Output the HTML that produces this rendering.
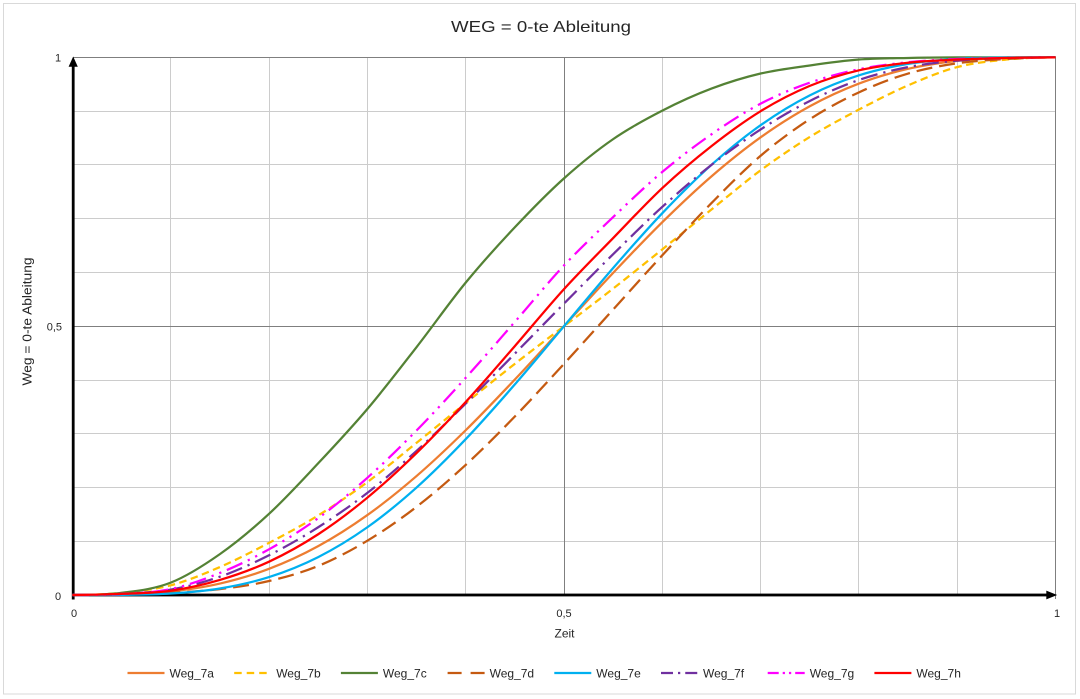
<!DOCTYPE html>
<html>
<head>
<meta charset="utf-8">
<style>
html,body{margin:0;padding:0;background:#fff}
svg{display:block}
</style>
</head>
<body>
<svg width="1080" height="699" viewBox="0 0 1080 699" xmlns="http://www.w3.org/2000/svg" font-family="'Liberation Sans', sans-serif">
<rect x="0" y="0" width="1080" height="699" fill="#ffffff"/>
<rect x="3.5" y="3.5" width="1072" height="690.5" fill="none" stroke="#d9d9d9" stroke-width="1"/>

<!-- minor gridlines -->
<g stroke="#cccccc" stroke-width="1" fill="none">
  <line x1="170.5" y1="57" x2="170.5" y2="595"/>
  <line x1="269.5" y1="57" x2="269.5" y2="595"/>
  <line x1="367.5" y1="57" x2="367.5" y2="595"/>
  <line x1="465.5" y1="57" x2="465.5" y2="595"/>
  <line x1="662.5" y1="57" x2="662.5" y2="595"/>
  <line x1="760.5" y1="57" x2="760.5" y2="595"/>
  <line x1="858.5" y1="57" x2="858.5" y2="595"/>
  <line x1="957.5" y1="57" x2="957.5" y2="595"/>
  <line x1="73" y1="111.5" x2="1056" y2="111.5"/>
  <line x1="73" y1="164.5" x2="1056" y2="164.5"/>
  <line x1="73" y1="218.5" x2="1056" y2="218.5"/>
  <line x1="73" y1="272.5" x2="1056" y2="272.5"/>
  <line x1="73" y1="380.5" x2="1056" y2="380.5"/>
  <line x1="73" y1="433.5" x2="1056" y2="433.5"/>
  <line x1="73" y1="487.5" x2="1056" y2="487.5"/>
  <line x1="73" y1="541.5" x2="1056" y2="541.5"/>
</g>
<!-- major gridlines -->
<g stroke="#7f7f7f" stroke-width="1" fill="none">
  <line x1="564.5" y1="57" x2="564.5" y2="595"/>
  <line x1="1055.5" y1="57" x2="1055.5" y2="599"/>
  <line x1="73" y1="326.5" x2="1056" y2="326.5"/>
  <line x1="73" y1="57.5" x2="1056" y2="57.5"/>
</g>

<!-- axes -->
<g fill="#000" stroke="none">
  <rect x="71.8" y="63" width="2.8" height="536.5"/>
  <rect x="72" y="593.6" width="976" height="2.8"/>
  <polygon points="73.2,56.5 68.6,66.8 77.8,66.8"/>
  <polygon points="1057.2,595 1046.3,590.6 1046.3,599.4"/>
</g>

<!-- series -->
<g fill="none" stroke-width="2.25" stroke-linejoin="round">
  <!-- Weg_7a -->
  <path stroke="#ED7D31" d="M72.4,595 C88.79,595 105.17,595 121.56,594.56 C137.95,593.98 154.33,593.36 170.72,591.53 C187.11,589.70 203.49,587.36 219.88,583.58 C236.27,579.80 252.65,575.09 269.04,568.85 C285.43,562.61 301.81,555.12 318.2,546.16 C334.59,537.20 350.97,526.77 367.36,515.09 C383.75,503.41 400.13,490.20 416.52,476.06 C432.91,461.92 449.29,446.34 465.68,430.25 C482.07,414.16 498.45,396.86 514.84,379.52 C531.23,362.18 547.61,343.97 564,326.2 C580.39,308.43 596.77,290.22 613.16,272.88 C629.55,255.54 645.93,238.24 662.32,222.15 C678.71,206.06 695.09,190.48 711.48,176.34 C727.87,162.20 744.25,148.99 760.64,137.31 C777.03,125.63 793.41,115.20 809.8,106.24 C826.19,97.28 842.57,89.79 858.96,83.55 C875.35,77.31 891.73,72.60 908.12,68.82 C924.51,65.04 940.89,62.70 957.28,60.87 C973.67,59.04 990.05,58.42 1006.44,57.84 C1022.83,57.4 1039.21,57.4 1055.6,57.4"/>
  <!-- Weg_7b -->
  <path stroke="#FFC000" stroke-dasharray="7.5,4.5" d="M72.4,595 C88.79,595 105.17,594.46 121.56,592.85 C137.95,591.24 154.33,589.62 170.72,585.32 C187.11,581.02 203.49,574.12 219.88,567.04 C236.27,559.96 252.65,551.45 269.04,542.85 C285.43,534.25 301.81,525.57 318.2,515.44 C334.59,505.31 350.97,494.20 367.36,482.1 C383.75,470.00 400.13,456.03 416.52,442.86 C432.91,429.69 449.29,416.25 465.68,403.08 C482.07,389.91 498.45,376.64 514.84,363.83 C531.23,351.02 547.61,338.74 564,326.2 C580.39,313.66 596.77,301.38 613.16,288.57 C629.55,275.76 645.93,262.49 662.32,249.32 C678.71,236.15 695.09,222.71 711.48,209.54 C727.87,196.37 744.25,182.40 760.64,170.3 C777.03,158.20 793.41,147.09 809.8,136.96 C826.19,126.83 842.57,118.15 858.96,109.55 C875.35,100.95 891.73,92.44 908.12,85.36 C924.51,78.28 940.89,71.38 957.28,67.08 C973.67,62.78 990.05,61.16 1006.44,59.55 C1022.83,57.94 1039.21,57.4 1055.6,57.4"/>
  <!-- Weg_7c -->
  <path stroke="#548235" d="M72.4,595 C88.79,595 105.17,594.91 121.56,592.85 C137.95,590.79 154.33,589.09 170.72,582.64 C187.11,576.19 203.49,565.61 219.88,554.14 C236.27,542.67 252.65,528.96 269.04,513.82 C285.43,498.68 301.81,480.76 318.2,463.29 C334.59,445.82 350.97,428.34 367.36,408.99 C383.75,389.64 400.13,368.23 416.52,347.17 C432.91,326.11 449.29,302.63 465.68,282.65 C482.07,262.67 498.45,244.66 514.84,227.28 C531.23,209.90 547.61,193.05 564,178.36 C580.39,163.67 596.77,150.41 613.16,139.12 C629.55,127.83 645.93,119.04 662.32,110.62 C678.71,102.20 695.09,94.76 711.48,88.58 C727.87,82.40 744.25,77.38 760.64,73.53 C777.03,69.68 793.41,67.79 809.8,65.46 C826.19,63.13 842.57,60.80 858.96,59.55 C875.35,58.30 891.73,58.30 908.12,57.94 C924.51,57.58 940.89,57.49 957.28,57.4 L1055.6,57.4"/>
  <!-- Weg_7d -->
  <path stroke="#C55A11" stroke-dasharray="16,7" d="M72.4,595 C88.79,595 105.17,594.82 121.56,594.46 C137.95,594.10 154.33,593.75 170.72,592.85 C187.11,591.95 203.49,591.06 219.88,589.09 C236.27,587.12 252.65,584.87 269.04,581.02 C285.43,577.17 301.81,572.69 318.2,565.97 C334.59,559.25 350.97,550.56 367.36,540.70 C383.75,530.84 400.13,519.46 416.52,506.83 C432.91,494.20 449.29,479.95 465.68,464.90 C482.07,449.85 498.45,433.37 514.84,416.52 C531.23,399.67 547.61,381.66 564,363.83 C580.39,346.00 596.77,327.63 613.16,309.53 C629.55,291.43 645.93,272.98 662.32,255.24 C678.71,237.50 695.09,219.67 711.48,203.09 C727.87,186.51 744.25,169.76 760.64,155.78 C777.03,141.80 793.41,129.79 809.8,119.22 C826.19,108.65 842.57,99.96 858.96,92.34 C875.35,84.72 891.73,78.37 908.12,73.53 C924.51,68.69 940.89,65.73 957.28,63.31 C973.67,60.89 990.05,60.00 1006.44,59.01 C1022.83,58.02 1039.21,57.4 1055.6,57.4"/>
  <!-- Weg_7e -->
  <path stroke="#00B0F0" d="M72.4,595 C88.79,595 105.17,595 121.56,594.90 C137.95,594.66 154.33,594.60 170.72,593.53 C187.11,592.46 203.49,591.23 219.88,588.49 C236.27,585.75 252.65,582.31 269.04,577.07 C285.43,571.83 301.81,565.38 318.2,557.07 C334.59,548.76 350.97,538.83 367.36,527.24 C383.75,515.65 400.13,502.23 416.52,487.56 C432.91,472.89 449.29,456.40 465.68,439.21 C482.07,422.02 498.45,403.26 514.84,384.42 C531.23,365.58 547.61,345.61 564,326.2 C580.39,306.79 596.77,286.82 613.16,267.98 C629.55,249.14 645.93,230.38 662.32,213.19 C678.71,196.00 695.09,179.51 711.48,164.84 C727.87,150.17 744.25,136.75 760.64,125.16 C777.03,113.57 793.41,103.64 809.8,95.33 C826.19,87.02 842.57,80.57 858.96,75.33 C875.35,70.09 891.73,66.65 908.12,63.91 C924.51,61.17 940.89,59.94 957.28,58.87 C973.67,57.80 990.05,57.75 1006.44,57.50 C1022.83,57.4 1039.21,57.4 1055.6,57.4"/>
  <!-- Weg_7f -->
  <path stroke="#7030A0" stroke-dasharray="17,6,2.25,6" d="M72.4,595 C88.79,595 105.17,594.82 121.56,593.92 C137.95,593.02 154.33,592.49 170.72,589.62 C187.11,586.75 203.49,582.45 219.88,576.72 C236.27,570.99 252.65,563.46 269.04,555.22 C285.43,546.98 301.81,537.65 318.2,527.26 C334.59,516.87 350.97,505.58 367.36,492.86 C383.75,480.14 400.13,465.80 416.52,450.92 C432.91,436.04 449.29,419.83 465.68,403.61 C482.07,387.39 498.45,370.29 514.84,353.62 C531.23,336.95 547.61,320.20 564,303.62 C580.39,287.04 596.77,270.29 613.16,254.16 C629.55,238.03 645.93,221.72 662.32,206.85 C678.71,191.98 695.09,177.82 711.48,164.92 C727.87,152.02 744.25,140.10 760.64,129.44 C777.03,118.78 793.41,109.19 809.8,100.95 C826.19,92.71 842.57,85.63 858.96,79.98 C875.35,74.33 891.73,70.31 908.12,67.08 C924.51,63.85 940.89,62.15 957.28,60.63 C973.67,59.11 990.05,58.48 1006.44,57.94 C1022.83,57.4 1039.21,57.4 1055.6,57.4"/>
  <!-- Weg_7g -->
  <path stroke="#FF00FF" stroke-dasharray="17,6,2.25,6,2.25,6" d="M72.4,595 C88.79,595 105.17,594.91 121.56,593.92 C137.95,592.93 154.33,592.58 170.72,589.09 C187.11,585.60 203.49,579.59 219.88,572.96 C236.27,566.33 252.65,558.44 269.04,549.30 C285.43,540.16 301.81,530.04 318.2,518.12 C334.59,506.20 350.97,492.41 367.36,477.80 C383.75,463.19 400.13,447.16 416.52,430.49 C432.91,413.82 449.29,395.91 465.68,377.81 C482.07,359.71 498.45,340.63 514.84,321.90 C531.23,303.17 547.61,282.92 564,265.45 C580.39,247.98 596.77,232.66 613.16,217.07 C629.55,201.48 645.93,185.71 662.32,171.91 C678.71,158.11 695.09,145.66 711.48,134.28 C727.87,122.90 744.25,112.23 760.64,103.63 C777.03,95.03 793.41,88.40 809.8,82.67 C826.19,76.94 842.57,72.64 858.96,69.23 C875.35,65.82 891.73,63.94 908.12,62.24 C924.51,60.54 940.89,59.73 957.28,59.01 C973.67,58.29 990.05,58.21 1006.44,57.94 C1022.83,57.67 1039.21,57.4 1055.6,57.4"/>
  <!-- Weg_7h -->
  <path stroke="#FF0000" d="M72.4,595 C88.79,595 105.17,594.64 121.56,593.92 C137.95,593.20 154.33,593.03 170.72,590.70 C187.11,588.37 203.49,584.79 219.88,579.95 C236.27,575.11 252.65,569.29 269.04,561.67 C285.43,554.05 301.81,544.91 318.2,534.25 C334.59,523.59 350.97,511.22 367.36,497.69 C383.75,484.16 400.13,469.02 416.52,453.07 C432.91,437.12 449.29,419.83 465.68,402.00 C482.07,384.17 498.45,364.91 514.84,346.09 C531.23,327.27 547.61,307.12 564,289.11 C580.39,271.10 596.77,254.88 613.16,238.03 C629.55,221.18 645.93,203.36 662.32,188.04 C678.71,172.72 695.09,158.91 711.48,146.10 C727.87,133.29 744.25,121.20 760.64,111.16 C777.03,101.12 793.41,92.70 809.8,85.89 C826.19,79.08 842.57,74.15 858.96,70.30 C875.35,66.45 891.73,64.57 908.12,62.78 C924.51,60.99 940.89,60.36 957.28,59.55 C973.67,58.74 990.05,58.30 1006.44,57.94 C1022.83,57.58 1039.21,57.4 1055.6,57.4"/>
</g>

<!-- tick labels -->
<g font-size="11" fill="#262626">
  <text x="58" y="61.5" text-anchor="middle">1</text>
  <text x="62" y="330.5" text-anchor="end">0,5</text>
  <text x="58" y="600" text-anchor="middle">0</text>
  <text x="74" y="617" text-anchor="middle">0</text>
  <text x="564" y="617" text-anchor="middle">0,5</text>
  <text x="1057" y="617" text-anchor="middle">1</text>
</g>

<!-- axis titles -->
<text x="564.5" y="637.5" text-anchor="middle" font-size="12" fill="#262626">Zeit</text>
<text transform="translate(31.5,321.5) rotate(-90)" text-anchor="middle" font-size="12.5" fill="#262626" textLength="128" lengthAdjust="spacingAndGlyphs">Weg = 0-te Ableitung</text>

<!-- title -->
<text x="541" y="32" text-anchor="middle" font-size="16" fill="#262626" textLength="180" lengthAdjust="spacingAndGlyphs">WEG = 0-te Ableitung</text>

<!-- legend -->
<g stroke-width="2.25" fill="none">
  <line x1="127.5" y1="673" x2="164.5" y2="673" stroke="#ED7D31"/>
  <line x1="234.2" y1="673" x2="271.2" y2="673" stroke="#FFC000" stroke-dasharray="7.5,5"/>
  <line x1="340.9" y1="673" x2="377.9" y2="673" stroke="#548235"/>
  <line x1="447.6" y1="673" x2="484.6" y2="673" stroke="#C55A11" stroke-dasharray="14,9"/>
  <line x1="554.3" y1="673" x2="591.3" y2="673" stroke="#00B0F0"/>
  <line x1="661" y1="673" x2="698" y2="673" stroke="#7030A0" stroke-dasharray="12,5,2.25,5"/>
  <line x1="767.7" y1="673" x2="804.7" y2="673" stroke="#FF00FF" stroke-dasharray="11,4,2.25,4,2.25,4"/>
  <line x1="874.4" y1="673" x2="911.4" y2="673" stroke="#FF0000"/>
</g>
<g font-size="12" fill="#262626">
  <text x="169.5" y="677.5">Weg_7a</text>
  <text x="276.2" y="677.5">Weg_7b</text>
  <text x="382.9" y="677.5">Weg_7c</text>
  <text x="489.6" y="677.5">Weg_7d</text>
  <text x="596.3" y="677.5">Weg_7e</text>
  <text x="703" y="677.5">Weg_7f</text>
  <text x="809.7" y="677.5">Weg_7g</text>
  <text x="916.4" y="677.5">Weg_7h</text>
</g>
</svg>
</body>
</html>
